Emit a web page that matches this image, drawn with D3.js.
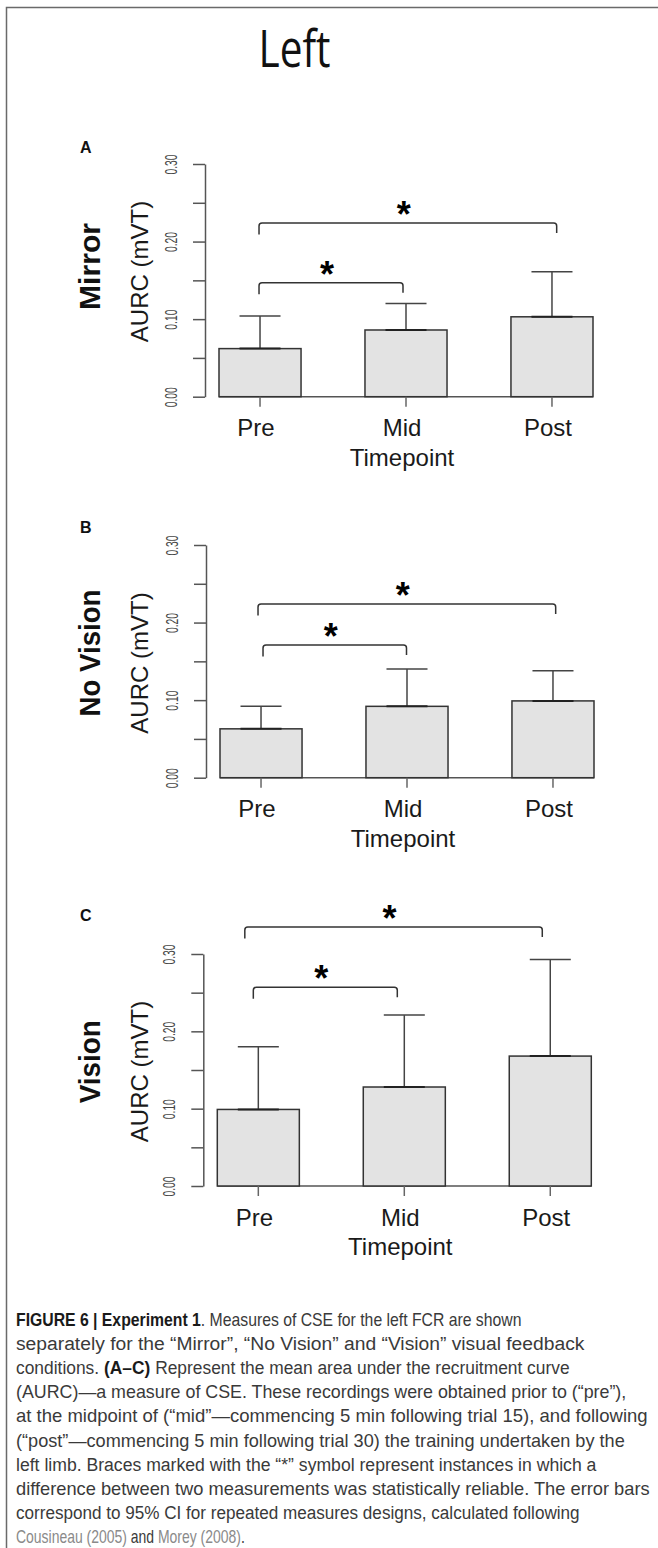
<!DOCTYPE html>
<html><head><meta charset="utf-8">
<script src="https://cdn.jsdelivr.net/npm/d3@7"></script>
<style>
html,body{margin:0;padding:0;background:#fff;}
svg{display:block;}
</style></head>
<body>
<script>
// ---------- DATA ----------
const categories = ["Pre", "Mid", "Post"];
const panelLetters = ["A", "B", "C"];
const conditionNames = ["Mirror", "No Vision", "Vision"];
const mirrorMeans = [0.062, 0.086, 0.103];
const mirrorUpper = [0.104, 0.120, 0.161];
const noVisionMeans = [0.063, 0.092, 0.099];
const noVisionUpper = [0.092, 0.140, 0.138];
const visionMeans = [0.099, 0.128, 0.168];
const visionUpper = [0.180, 0.221, 0.293];
const mirrorBrackets = [{from: "Pre", to: "Post", y: 0.224}, {from: "Pre", to: "Mid", y: 0.147}];
const noVisionBrackets = [{from: "Pre", to: "Post", y: 0.224}, {from: "Pre", to: "Mid", y: 0.171}];
const visionBrackets = [{from: "Pre", to: "Post", y: 0.335}, {from: "Pre", to: "Mid", y: 0.257}];
const yTickValues = [0, 0.05, 0.10, 0.15, 0.20, 0.25, 0.30];
const yTickLabels = ["0.00", "", "0.10", "", "0.20", "", "0.30"];
const yDomain = [0, 0.30];
const yAxisTitle = "AURC (mVT)";
const xAxisTitle = "Timepoint";
const figureTitle = "Left";

const meansList = [mirrorMeans, noVisionMeans, visionMeans];
const upperList = [mirrorUpper, noVisionUpper, visionUpper];
const bracketList = [mirrorBrackets, noVisionBrackets, visionBrackets];

// ---------- LAYOUT ----------
const W = 658, H = 1548;
const layout = [
  {axisX: 205, yTop: 164, yBot: 396.7, letterY: 153, condY: 266.5, titleY: 271.5, nudge: [[-1, 4.7], [-1, -3]]},
  {axisX: 206, yTop: 545, yBot: 777.7, letterY: 533, condY: 653, titleY: 663, nudge: [[-3, 2.7], [2, -0.5]]},
  {axisX: 203.3, yTop: 954, yBot: 1186, letterY: 921, condY: 1061.7, titleY: 1071.5, nudge: [[-13.5, -8], [-5, -7]]}
];
const condLen = [87, 127, 83];

const svg = d3.select("body").append("svg").attr("width", W).attr("height", H);
svg.append("rect").attr("x", 0).attr("y", 0).attr("width", W).attr("height", H).attr("fill", "#fff");
svg.append("rect").attr("x", 6.5).attr("y", 7.5).attr("width", W + 20).attr("height", H + 20)
  .attr("fill", "none").attr("stroke", "#6a6a6a").attr("stroke-width", 1.5);

svg.append("text").attr("x", 294.5).attr("y", 66.5).attr("text-anchor", "middle")
  .attr("font-family", "'Open Sans', sans-serif").attr("font-size", 51).attr("fill", "#111")
  .attr("textLength", 72).attr("lengthAdjust", "spacingAndGlyphs").text(figureTitle);

const sans = "'Liberation Sans', Arial, Helvetica, sans-serif";

layout.forEach((L, p) => {
  const g = svg.append("g");
  const y = d3.scaleLinear().domain(yDomain).range([L.yBot, L.yTop]);
  const x = d3.scaleBand().domain(categories).range([L.axisX + 14, L.axisX + 14 + 374])
    .paddingInner(0.438).paddingOuter(0);
  const means = meansList[p], upper = upperList[p];
  const rows = categories.map((c, i) => ({c, m: means[i], u: upper[i]}));

  g.append("text").attr("x", 80).attr("y", L.letterY).attr("font-family", sans)
    .attr("font-weight", "bold").attr("font-size", 16).attr("fill", "#111").text(panelLetters[p]);

  g.append("text").attr("transform", `translate(89,${L.condY}) rotate(-90)`)
    .attr("text-anchor", "middle").attr("dominant-baseline", "central")
    .attr("font-family", sans).attr("font-weight", "bold").attr("font-size", 30).attr("fill", "#111")
    .attr("textLength", condLen[p]).attr("lengthAdjust", "spacingAndGlyphs").text(conditionNames[p]);

  g.append("text").attr("transform", `translate(139.5,${L.titleY}) rotate(-90)`)
    .attr("text-anchor", "middle").attr("dominant-baseline", "central")
    .attr("font-family", sans).attr("font-size", 24).attr("fill", "#1a1a1a").text(yAxisTitle);

  const ax = g.append("g").attr("transform", `translate(${L.axisX},0)`)
    .call(d3.axisLeft(y).tickValues(yTickValues).tickSize(12).tickSizeOuter(0)
      .tickFormat((d, i) => yTickLabels[i]));
  ax.select(".domain").attr("stroke", "#555").attr("stroke-width", 1.5);
  ax.selectAll(".tick line").attr("stroke", "#555").attr("stroke-width", 1.5);
  ax.selectAll(".tick text").attr("x", null).attr("dy", null)
    .attr("transform", "translate(-33.5,0) rotate(-90)")
    .attr("text-anchor", "middle").attr("dominant-baseline", "central")
    .attr("font-family", sans).attr("font-size", 17).attr("fill", "#444")
    .attr("textLength", (d, i) => yTickLabels[i] ? 20 : null)
    .attr("lengthAdjust", "spacingAndGlyphs");

  g.append("line").attr("x1", x("Pre")).attr("x2", x("Post") + x.bandwidth())
    .attr("y1", y(0)).attr("y2", y(0)).attr("stroke", "#555").attr("stroke-width", 1.5);

  g.selectAll("rect.bar").data(rows).join("rect").attr("class", "bar")
    .attr("x", d => x(d.c)).attr("width", x.bandwidth())
    .attr("y", d => y(d.m)).attr("height", d => y(0) - y(d.m))
    .attr("fill", "#e3e3e3").attr("stroke", "#333").attr("stroke-width", 1.5);

  const cap = x.bandwidth() / 4;
  rows.forEach(d => {
    const cx = x(d.c) + x.bandwidth() / 2;
    g.append("line").attr("x1", cx).attr("x2", cx).attr("y1", y(d.m)).attr("y2", y(d.u))
      .attr("stroke", "#444").attr("stroke-width", 1.5);
    g.append("line").attr("x1", cx - cap).attr("x2", cx + cap).attr("y1", y(d.u)).attr("y2", y(d.u))
      .attr("stroke", "#444").attr("stroke-width", 1.5);
    g.append("line").attr("x1", cx - cap).attr("x2", cx + cap).attr("y1", y(d.m)).attr("y2", y(d.m))
      .attr("stroke", "#222").attr("stroke-width", 2);
    g.append("line").attr("x1", cx).attr("x2", cx).attr("y1", y(0)).attr("y2", y(0) + 10)
      .attr("stroke", "#666").attr("stroke-width", 1.5);
    g.append("text").attr("x", cx - 4).attr("y", y(0) + 39.5).attr("text-anchor", "middle")
      .attr("font-family", sans).attr("font-size", 24).attr("fill", "#1a1a1a").text(d.c);
  });
  g.append("text").attr("x", x("Mid") + x.bandwidth() / 2 - 4).attr("y", y(0) + 69)
    .attr("text-anchor", "middle").attr("font-family", sans).attr("font-size", 24)
    .attr("fill", "#1a1a1a").text(xAxisTitle);

  bracketList[p].forEach((b, k) => {
    const x1 = x(b.from) + x.bandwidth() / 2 + L.nudge[k][0];
    const x2 = x(b.to) + x.bandwidth() / 2 + L.nudge[k][1];
    const yy = y(b.y), leg = 11.5, r = 3;
    const path = `M${x1},${yy + leg} L${x1},${yy + r} Q${x1},${yy} ${x1 + r},${yy} L${x2 - r},${yy} Q${x2},${yy} ${x2},${yy + r} L${x2},${yy + leg - 1.5}`;
    g.append("path").attr("d", path).attr("fill", "none").attr("stroke", "#333").attr("stroke-width", 1.5);
    g.append("text").attr("x", (x1 + x2) / 2 - 4).attr("y", yy - 17 + 21)
      .attr("text-anchor", "middle").attr("font-family", sans).attr("font-weight", "bold")
      .attr("font-size", 36).attr("fill", "#000").text("*");
  });
});

// ---------- CAPTION ----------
const captionLines = [
  [[{t: "FIGURE 6 | Experiment 1", b: 1}, {t: ". Measures of CSE for the left FCR are shown"}], 506],
  [[{t: "separately for the \u201CMirror\u201D, \u201CNo Vision\u201D and \u201CVision\u201D visual feedback"}], 569],
  [[{t: "conditions. "}, {t: "(A\u2013C)", b: 1}, {t: " Represent the mean area under the recruitment curve"}], 554],
  [[{t: "(AURC)\u2014a measure of CSE. These recordings were obtained prior to (\u201Cpre\u201D),"}], 611],
  [[{t: "at the midpoint of (\u201Cmid\u201D\u2014commencing 5 min following trial 15), and following"}], 632],
  [[{t: "(\u201Cpost\u201D\u2014commencing 5 min following trial 30) the training undertaken by the"}], 609],
  [[{t: "left limb. Braces marked with the \u201C*\u201D symbol represent instances in which a"}], 581],
  [[{t: "difference between two measurements was statistically reliable. The error bars"}], 634],
  [[{t: "correspond to 95% CI for repeated measures designs, calculated following"}], 564],
  [[{t: "Cousineau (2005)", l: 1}, {t: " and "}, {t: "Morey (2008)", l: 1}, {t: "."}], 229]
];
captionLines.forEach((line, i) => {
  const t = svg.append("text").attr("x", 0).attr("y", 0)
    .attr("font-family", sans).attr("font-size", 18).attr("fill", "#3a3a3a");
  line[0].forEach(s => {
    const ts = t.append("tspan").text(s.t);
    if (s.b) ts.attr("font-weight", "bold").attr("fill", "#1a1a1a");
    if (s.l) ts.attr("fill", "#8a8a8a");
  });
  const natural = t.node().getComputedTextLength();
  const k = natural > 0 ? line[1] / natural : 1;
  t.attr("transform", `translate(16,${1326 + i * 24.1}) scale(${k},1)`);
});
</script>
</body></html>
